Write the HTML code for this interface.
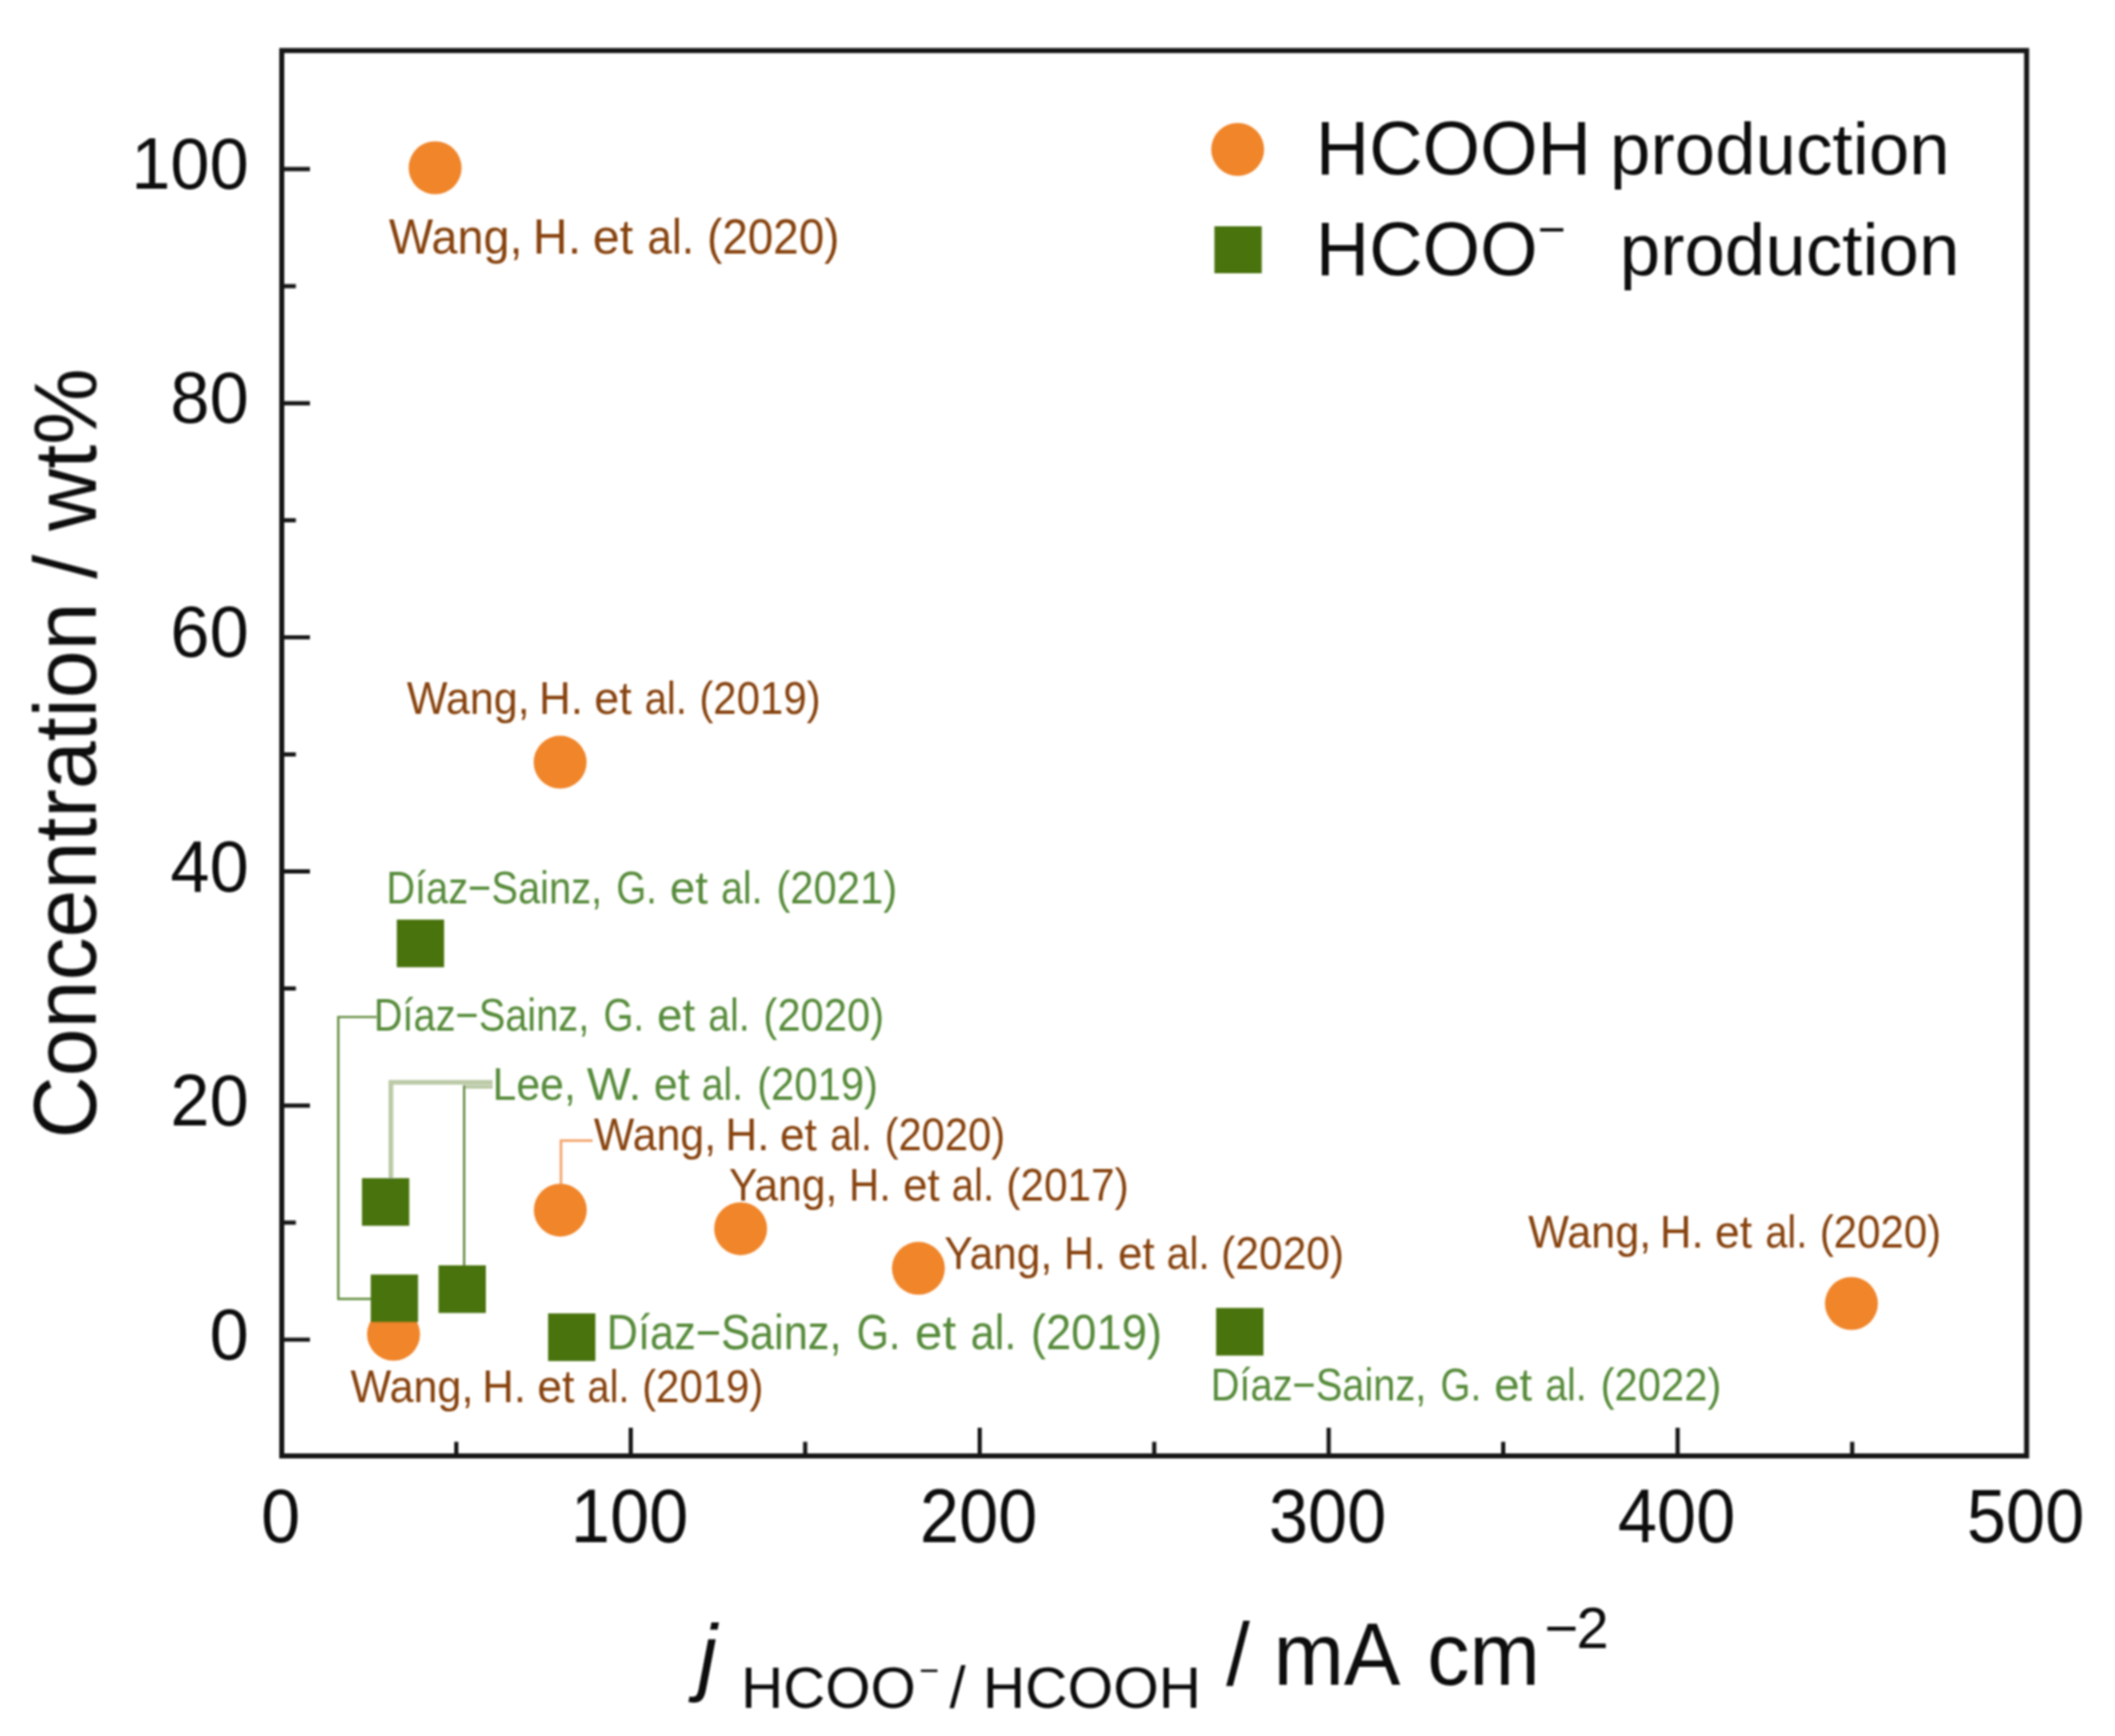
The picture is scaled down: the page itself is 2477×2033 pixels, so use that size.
<!DOCTYPE html>
<html lang="en"><head><meta charset="utf-8"><title>Formate / formic acid production chart</title>
<style>
html,body{margin:0;padding:0;background:#fff;}
body{width:2477px;height:2033px;overflow:hidden;}
svg{display:block;}
.ax{font-family:"Liberation Sans",sans-serif;fill:#111;}
.lb{font-family:"Liberation Sans",sans-serif;}
</style></head><body>
<svg width="2477" height="2033" viewBox="0 0 2477 2033">
<rect x="0" y="0" width="2477" height="2033" fill="#ffffff"/>
<defs><filter id="soft" x="0" y="0" width="2477" height="2033" filterUnits="userSpaceOnUse"><feGaussianBlur stdDeviation="1"/></filter></defs>
<g filter="url(#soft)">

<rect x="330.0" y="59.2" width="2043.5" height="1645.8" fill="none" stroke="#141414" stroke-width="5.9"/>
<line x1="330.0" y1="1568.9" x2="363.0" y2="1568.9" stroke="#181818" stroke-width="4.9"/>
<line x1="330.0" y1="1431.8" x2="346.5" y2="1431.8" stroke="#181818" stroke-width="4.9"/>
<line x1="330.0" y1="1294.7" x2="363.0" y2="1294.7" stroke="#181818" stroke-width="4.9"/>
<line x1="330.0" y1="1157.6" x2="346.5" y2="1157.6" stroke="#181818" stroke-width="4.9"/>
<line x1="330.0" y1="1020.5" x2="363.0" y2="1020.5" stroke="#181818" stroke-width="4.9"/>
<line x1="330.0" y1="883.5" x2="346.5" y2="883.5" stroke="#181818" stroke-width="4.9"/>
<line x1="330.0" y1="746.4" x2="363.0" y2="746.4" stroke="#181818" stroke-width="4.9"/>
<line x1="330.0" y1="609.3" x2="346.5" y2="609.3" stroke="#181818" stroke-width="4.9"/>
<line x1="330.0" y1="472.2" x2="363.0" y2="472.2" stroke="#181818" stroke-width="4.9"/>
<line x1="330.0" y1="335.1" x2="346.5" y2="335.1" stroke="#181818" stroke-width="4.9"/>
<line x1="330.0" y1="198.0" x2="363.0" y2="198.0" stroke="#181818" stroke-width="4.9"/>
<line x1="534.4" y1="1705.0" x2="534.4" y2="1688.5" stroke="#181818" stroke-width="4.9"/>
<line x1="738.7" y1="1705.0" x2="738.7" y2="1672.0" stroke="#181818" stroke-width="4.9"/>
<line x1="943.0" y1="1705.0" x2="943.0" y2="1688.5" stroke="#181818" stroke-width="4.9"/>
<line x1="1147.4" y1="1705.0" x2="1147.4" y2="1672.0" stroke="#181818" stroke-width="4.9"/>
<line x1="1351.8" y1="1705.0" x2="1351.8" y2="1688.5" stroke="#181818" stroke-width="4.9"/>
<line x1="1556.1" y1="1705.0" x2="1556.1" y2="1672.0" stroke="#181818" stroke-width="4.9"/>
<line x1="1760.5" y1="1705.0" x2="1760.5" y2="1688.5" stroke="#181818" stroke-width="4.9"/>
<line x1="1964.8" y1="1705.0" x2="1964.8" y2="1672.0" stroke="#181818" stroke-width="4.9"/>
<line x1="2169.2" y1="1705.0" x2="2169.2" y2="1688.5" stroke="#181818" stroke-width="4.9"/>
<text class="ax" transform="translate(291.3,1591.9) scale(1,1.033)" font-size="82.5" text-anchor="end">0</text>
<text class="ax" transform="translate(291.3,1317.7) scale(1,1.033)" font-size="82.5" text-anchor="end">20</text>
<text class="ax" transform="translate(291.3,1043.5) scale(1,1.033)" font-size="82.5" text-anchor="end">40</text>
<text class="ax" transform="translate(291.3,769.4) scale(1,1.033)" font-size="82.5" text-anchor="end">60</text>
<text class="ax" transform="translate(291.3,495.2) scale(1,1.033)" font-size="82.5" text-anchor="end">80</text>
<text class="ax" transform="translate(291.3,221.0) scale(1,1.033)" font-size="82.5" text-anchor="end">100</text>
<text class="ax" transform="translate(328.7,1806.2) scale(1,1.07)" font-size="82.5" text-anchor="middle">0</text>
<text class="ax" transform="translate(737.4,1806.2) scale(1,1.07)" font-size="82.5" text-anchor="middle">100</text>
<text class="ax" transform="translate(1146.1,1806.2) scale(1,1.07)" font-size="82.5" text-anchor="middle">200</text>
<text class="ax" transform="translate(1554.8,1806.2) scale(1,1.07)" font-size="82.5" text-anchor="middle">300</text>
<text class="ax" transform="translate(1963.5,1806.2) scale(1,1.07)" font-size="82.5" text-anchor="middle">400</text>
<text class="ax" transform="translate(2372.2,1806.2) scale(1,1.07)" font-size="82.5" text-anchor="middle">500</text>
<text class="ax" transform="translate(112,882.2) rotate(-90) scale(1,1.03)" font-size="100.8" text-anchor="middle">Concentration / wt%</text>
<text class="ax" x="817.5" y="1972.5" font-size="100" font-style="italic">j</text>
<text class="ax" x="868" y="1999.5" font-size="68.2">HCOO</text>
<text class="ax" x="1076.5" y="1969.5" font-size="40">−</text>
<text class="ax" x="1112" y="1999.5" font-size="68">/</text>
<text class="ax" x="1151" y="1999.5" font-size="68.7">HCOOH</text>
<text class="ax" transform="translate(1436,1973.3) scale(1,1.035)" font-size="100">/</text>
<text class="ax" transform="translate(1491.5,1973.3) scale(1,1.04)" font-size="99">mA</text>
<text class="ax" transform="translate(1671.5,1973.3) scale(1,1.04)" font-size="99">cm</text>
<text class="ax" x="1809" y="1930.3" font-size="68">−<tspan dx="-2.5">2</tspan></text>
<circle cx="1449.5" cy="175" r="31" fill="#f0852b"/>
<rect x="1422.3" y="265" width="55.4" height="55" fill="#4a7311"/>
<text class="ax" transform="translate(1541,203.8) scale(1,1.035)" font-size="86.6">HCOOH</text>
<text class="ax" x="1885.6" y="203.5" font-size="85.2">production</text>
<text class="ax" transform="translate(1541,321.8) scale(1,1.035)" font-size="86.6">HCOO</text>
<text class="ax" x="1801" y="288" font-size="56">−</text>
<text class="ax" x="1897" y="321.5" font-size="85.2">production</text>
<path d="M441 1191 H396.2 V1521.2 H436" fill="none" stroke="#648d41" stroke-width="2.7"/>
<path d="M577 1267.4 H457.8 V1380" fill="none" stroke="#bccaa8" stroke-width="5.5"/>
<path d="M577 1272.8 H543" fill="none" stroke="#bccaa8" stroke-width="4.6"/>
<path d="M543.6 1271 V1483" fill="none" stroke="#648a40" stroke-width="2.7"/>
<path d="M694 1335.7 H657 V1388" fill="none" stroke="#f3a46c" stroke-width="3"/>
<circle cx="460.9" cy="1562.5" r="31" fill="#f0852b"/>
<rect x="464.7" y="1076.9" width="55.4" height="55.8" fill="#4a7311"/>
<rect x="423.9" y="1379.7" width="55.4" height="55.8" fill="#4a7311"/>
<rect x="434.2" y="1492.6" width="55.4" height="55.8" fill="#4a7311"/>
<rect x="513.6" y="1481.8" width="55.4" height="55.8" fill="#4a7311"/>
<rect x="641.9" y="1538.1" width="55.4" height="55.8" fill="#4a7311"/>
<rect x="1424.3" y="1531.7" width="55.4" height="55.8" fill="#4a7311"/>
<circle cx="509.6" cy="196.5" r="31" fill="#f0852b"/>
<circle cx="656" cy="892.6" r="31" fill="#f0852b"/>
<circle cx="656.2" cy="1417.2" r="31" fill="#f0852b"/>
<circle cx="867.4" cy="1438.9" r="31" fill="#f0852b"/>
<circle cx="1075.6" cy="1485.3" r="31" fill="#f0852b"/>
<circle cx="2168.3" cy="1526.5" r="31" fill="#f0852b"/>
<text class="lb" y="296.8" font-size="57.5" fill="#87430f"><tspan x="455.5" textLength="156.4" lengthAdjust="spacingAndGlyphs">Wang,</tspan> <tspan x="624.1" textLength="56.5" lengthAdjust="spacingAndGlyphs">H.</tspan> <tspan x="694.2" textLength="47.2" lengthAdjust="spacingAndGlyphs">et</tspan> <tspan x="758.3" textLength="54.5" lengthAdjust="spacingAndGlyphs">al.</tspan> <tspan x="828.0" textLength="155.2" lengthAdjust="spacingAndGlyphs">(2020)</tspan></text>
<text class="lb" y="835.9" font-size="54.0" fill="#87430f"><tspan x="476.5" textLength="143.9" lengthAdjust="spacingAndGlyphs">Wang,</tspan> <tspan x="631.3" textLength="51.5" lengthAdjust="spacingAndGlyphs">H.</tspan> <tspan x="696.0" textLength="43.7" lengthAdjust="spacingAndGlyphs">et</tspan> <tspan x="755.0" textLength="49.5" lengthAdjust="spacingAndGlyphs">al.</tspan> <tspan x="819.0" textLength="142.1" lengthAdjust="spacingAndGlyphs">(2019)</tspan></text>
<text class="lb" y="1057.6" font-size="53.0" fill="#568b3a"><tspan x="452.4" textLength="252.8" lengthAdjust="spacingAndGlyphs">Díaz−Sainz,</tspan> <tspan x="721.7" textLength="47.7" lengthAdjust="spacingAndGlyphs">G.</tspan> <tspan x="784.6" textLength="44.5" lengthAdjust="spacingAndGlyphs">et</tspan> <tspan x="844.4" textLength="48.6" lengthAdjust="spacingAndGlyphs">al.</tspan> <tspan x="909.2" textLength="141.6" lengthAdjust="spacingAndGlyphs">(2021)</tspan></text>
<text class="lb" y="1206.6" font-size="53.0" fill="#568b3a"><tspan x="437.7" textLength="252.4" lengthAdjust="spacingAndGlyphs">Díaz−Sainz,</tspan> <tspan x="706.8" textLength="47.6" lengthAdjust="spacingAndGlyphs">G.</tspan> <tspan x="769.6" textLength="44.5" lengthAdjust="spacingAndGlyphs">et</tspan> <tspan x="829.4" textLength="48.5" lengthAdjust="spacingAndGlyphs">al.</tspan> <tspan x="894.1" textLength="141.4" lengthAdjust="spacingAndGlyphs">(2020)</tspan></text>
<text class="lb" y="1287.8" font-size="53.0" fill="#568b3a"><tspan x="576.8" textLength="97.6" lengthAdjust="spacingAndGlyphs">Lee,</tspan> <tspan x="687.3" textLength="63.9" lengthAdjust="spacingAndGlyphs">W.</tspan> <tspan x="765.7" textLength="41.9" lengthAdjust="spacingAndGlyphs">et</tspan> <tspan x="821.8" textLength="48.5" lengthAdjust="spacingAndGlyphs">al.</tspan> <tspan x="886.8" textLength="141.4" lengthAdjust="spacingAndGlyphs">(2019)</tspan></text>
<text class="lb" y="1347.3" font-size="53.5" fill="#87430f"><tspan x="695.6" textLength="143.1" lengthAdjust="spacingAndGlyphs">Wang,</tspan> <tspan x="849.4" textLength="51.9" lengthAdjust="spacingAndGlyphs">H.</tspan> <tspan x="913.6" textLength="43.1" lengthAdjust="spacingAndGlyphs">et</tspan> <tspan x="972.3" textLength="48.9" lengthAdjust="spacingAndGlyphs">al.</tspan> <tspan x="1035.9" textLength="141.3" lengthAdjust="spacingAndGlyphs">(2020)</tspan></text>
<text class="lb" y="1405.8" font-size="53.5" fill="#87430f"><tspan x="853.8" textLength="126.8" lengthAdjust="spacingAndGlyphs">Yang,</tspan> <tspan x="994.2" textLength="49.1" lengthAdjust="spacingAndGlyphs">H.</tspan> <tspan x="1057.8" textLength="42.8" lengthAdjust="spacingAndGlyphs">et</tspan> <tspan x="1114.6" textLength="49.7" lengthAdjust="spacingAndGlyphs">al.</tspan> <tspan x="1178.5" textLength="143.5" lengthAdjust="spacingAndGlyphs">(2017)</tspan></text>
<text class="lb" y="1485.6" font-size="53.5" fill="#87430f"><tspan x="1105.9" textLength="126.4" lengthAdjust="spacingAndGlyphs">Yang,</tspan> <tspan x="1246.1" textLength="48.9" lengthAdjust="spacingAndGlyphs">H.</tspan> <tspan x="1309.6" textLength="42.7" lengthAdjust="spacingAndGlyphs">et</tspan> <tspan x="1366.3" textLength="50.6" lengthAdjust="spacingAndGlyphs">al.</tspan> <tspan x="1430.1" textLength="144.1" lengthAdjust="spacingAndGlyphs">(2020)</tspan></text>
<text class="lb" y="1461.2" font-size="53.5" fill="#87430f"><tspan x="1789.7" textLength="144.1" lengthAdjust="spacingAndGlyphs">Wang,</tspan> <tspan x="1944.0" textLength="51.2" lengthAdjust="spacingAndGlyphs">H.</tspan> <tspan x="2008.5" textLength="43.4" lengthAdjust="spacingAndGlyphs">et</tspan> <tspan x="2067.4" textLength="49.2" lengthAdjust="spacingAndGlyphs">al.</tspan> <tspan x="2131.2" textLength="142.2" lengthAdjust="spacingAndGlyphs">(2020)</tspan></text>
<text class="lb" y="1580.2" font-size="57.0" fill="#568b3a"><tspan x="710.5" textLength="275.1" lengthAdjust="spacingAndGlyphs">Díaz−Sainz,</tspan> <tspan x="1003.2" textLength="51.3" lengthAdjust="spacingAndGlyphs">G.</tspan> <tspan x="1071.6" textLength="48.2" lengthAdjust="spacingAndGlyphs">et</tspan> <tspan x="1136.7" textLength="53.6" lengthAdjust="spacingAndGlyphs">al.</tspan> <tspan x="1207.3" textLength="153.7" lengthAdjust="spacingAndGlyphs">(2019)</tspan></text>
<text class="lb" y="1642.2" font-size="53.5" fill="#87430f"><tspan x="410.4" textLength="144.1" lengthAdjust="spacingAndGlyphs">Wang,</tspan> <tspan x="564.7" textLength="51.2" lengthAdjust="spacingAndGlyphs">H.</tspan> <tspan x="629.2" textLength="43.4" lengthAdjust="spacingAndGlyphs">et</tspan> <tspan x="688.1" textLength="49.2" lengthAdjust="spacingAndGlyphs">al.</tspan> <tspan x="751.9" textLength="142.2" lengthAdjust="spacingAndGlyphs">(2019)</tspan></text>
<text class="lb" y="1640.0" font-size="53.0" fill="#568b3a"><tspan x="1417.9" textLength="252.6" lengthAdjust="spacingAndGlyphs">Díaz−Sainz,</tspan> <tspan x="1687.1" textLength="47.6" lengthAdjust="spacingAndGlyphs">G.</tspan> <tspan x="1749.9" textLength="44.5" lengthAdjust="spacingAndGlyphs">et</tspan> <tspan x="1809.7" textLength="48.6" lengthAdjust="spacingAndGlyphs">al.</tspan> <tspan x="1874.5" textLength="141.5" lengthAdjust="spacingAndGlyphs">(2022)</tspan></text>
</g></svg></body></html>
